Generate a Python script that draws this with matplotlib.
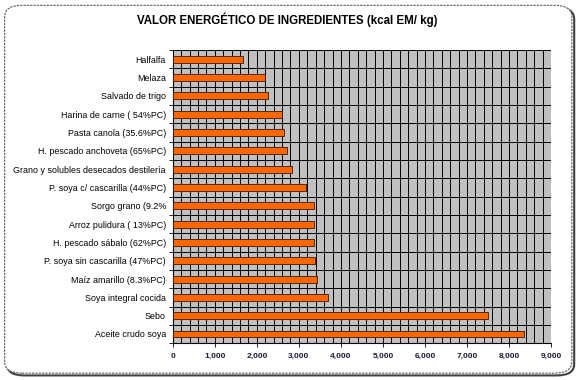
import numpy as np
import matplotlib
matplotlib.use('Agg')
import matplotlib.pyplot as plt
from matplotlib.patches import FancyBboxPatch

plt.rcParams['font.family'] = ['Liberation Sans', 'DejaVu Sans']

ingredientes = ['Halfalfa', 'Melaza', 'Salvado de trigo', 'Harina de carne ( 54%PC)',
                'Pasta canola (35.6%PC)', 'H. pescado anchoveta (65%PC)',
                'Grano y solubles desecados destilería', 'P. soya c/ cascarilla (44%PC)',
                'Sorgo grano (9.2%', 'Arroz pulidura ( 13%PC)', 'H. pescado sábalo (62%PC)',
                'P. soya sin cascarilla (47%PC)', 'Maíz amarillo (8.3%PC)',
                'Soya integral cocida', 'Sebo', 'Aceite crudo soya']
energia = [1660, 2190, 2260, 2600, 2640, 2710, 2830, 3170,
           3360, 3360, 3360, 3380, 3420, 3690, 7490, 8360]
xticks = np.arange(0, 9001, 1000)

fig = plt.figure(figsize=(5.8, 3.8), dpi=100)

# rounded outer frame with shadow
shadow = FancyBboxPatch((0.012, 0.012), 0.978, 0.968, boxstyle='round,pad=0,rounding_size=0.03',
                        transform=fig.transFigure, facecolor='none', edgecolor='#404040',
                        linewidth=1.5, zorder=-2)
frame = FancyBboxPatch((0.008, 0.018), 0.978, 0.968, boxstyle='round,pad=0,rounding_size=0.03',
                       transform=fig.transFigure, facecolor='white', edgecolor='#555555',
                       linewidth=0.8, linestyle=(0, (2, 1)), zorder=-1)
fig.add_artist(shadow)
fig.add_artist(frame)

ax = fig.add_axes([0.298, 0.097, 0.652, 0.771])
ax.set_zorder(1)
ax.set_facecolor('#c0c0c0')

y = np.arange(len(ingredientes))
ax.barh(y, energia, height=0.38, color='#ff6600', edgecolor='#3a1a00', linewidth=0.6, zorder=3)

ax.set_xlim(0, 9000)
ax.set_ylim(len(ingredientes) - 0.5, -0.5)
ax.set_xticks(xticks)
ax.set_xticklabels([f'{v:,}' for v in xticks], fontsize=6, fontweight='bold', color='#1a1a33')
ax.set_xticks(np.arange(0, 9001, 200), minor=True)
ax.set_yticks(y)
ax.set_yticklabels(ingredientes, fontsize=6.4)
ax.set_yticks(np.arange(-0.5, len(ingredientes), 1), minor=True)
ax.tick_params(axis='y', which='major', length=0, pad=5)
ax.tick_params(axis='y', which='minor', length=3, width=0.6)
ax.tick_params(axis='x', which='major', length=3, width=0.6, pad=4)
ax.tick_params(axis='x', which='minor', length=0)

ax.grid(True, which='minor', axis='both', color='black', linewidth=0.7, zorder=1)
ax.grid(True, which='major', axis='x', color='black', linewidth=0.7, zorder=1)
ax.set_axisbelow(True)
for s in ['top', 'right']:
    ax.spines[s].set_visible(False)
for s in ['left', 'bottom']:
    ax.spines[s].set_linewidth(0.8)

fig.text(0.496, 0.947, 'VALOR ENERGÉTICO DE INGREDIENTES (kcal EM/ kg)', ha='center', va='center',
         fontsize=8.3, fontweight='bold', zorder=2)

fig.savefig('out.png', dpi=100)
